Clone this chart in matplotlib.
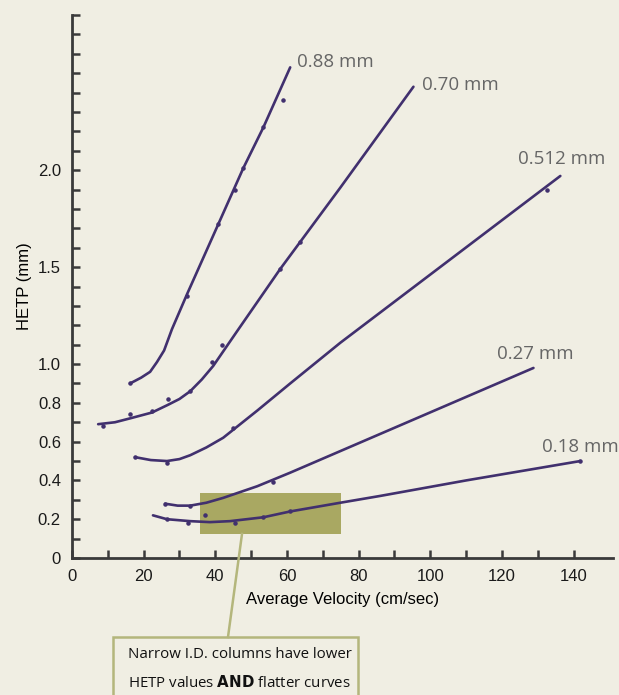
import numpy as np
import matplotlib
matplotlib.use('Agg')
import matplotlib.pyplot as plt
from matplotlib.patches import Rectangle
from matplotlib.lines import Line2D

# curves (velocity cm/sec, HETP mm)
x_088 = [16.2, 19.3, 21.8, 23.7, 25.7, 27.9, 32.1, 40.8, 47.8, 53.4, 60.9]
y_088 = [0.90, 0.93, 0.96, 1.01, 1.07, 1.18, 1.36, 1.72, 2.01, 2.22, 2.53]
x_070 = [7.3, 12.0, 16.2, 22.3, 26.8, 30.0, 33.0, 36.2, 39.4, 46.1, 58.1, 74.9, 95.3]
y_070 = [0.69, 0.70, 0.72, 0.75, 0.79, 0.82, 0.86, 0.92, 0.99, 1.17, 1.49, 1.91, 2.43]
x_0512 = [17.6, 22.0, 26.5, 30.0, 33.0, 37.5, 42.2, 51.7, 60.9, 74.9, 136.3]
y_0512 = [0.52, 0.505, 0.50, 0.51, 0.53, 0.57, 0.62, 0.76, 0.90, 1.11, 1.97]
x_027 = [26.0, 29.5, 33.0, 37.5, 42.2, 51.7, 60.9, 128.8]
y_027 = [0.28, 0.27, 0.27, 0.285, 0.31, 0.37, 0.44, 0.98]
x_018 = [22.6, 26.5, 33.0, 38.5, 44.1, 53.4, 60.9, 74.9, 86.0, 110.0, 141.9]
y_018 = [0.22, 0.20, 0.19, 0.185, 0.19, 0.21, 0.24, 0.285, 0.32, 0.40, 0.50]

# measured points (small dots)
dots_x = [16.2, 32.1, 40.8, 45.5, 47.8, 53.4, 58.9,
          8.7, 16.2, 22.3, 26.8, 33.0, 39.1, 41.9, 58.1, 63.7,
          17.6, 26.5, 45.0, 132.7,
          26.0, 33.0, 56.2,
          26.5, 32.4, 37.2, 45.5, 53.4, 60.9, 141.9]
dots_y = [0.90, 1.35, 1.72, 1.90, 2.01, 2.22, 2.36,
          0.68, 0.74, 0.76, 0.82, 0.86, 1.01, 1.10, 1.49, 1.63,
          0.52, 0.49, 0.67, 1.90,
          0.28, 0.27, 0.39,
          0.20, 0.18, 0.22, 0.18, 0.21, 0.24, 0.50]

curve_labels = ['0.88 mm', '0.70 mm', '0.512 mm', '0.27 mm', '0.18 mm']
label_x = [62.8, 97.8, 124.6, 118.7, 131.3]
label_y = [2.56, 2.44, 2.06, 1.05, 0.57]

ytick_vals = np.round(np.arange(0, 2.81, 0.1), 1)
ytick_shown = {0.0: '0', 0.2: '0.2', 0.4: '0.4', 0.6: '0.6', 0.8: '0.8',
               1.0: '1.0', 1.5: '1.5', 2.0: '2.0'}
xtick_vals = np.arange(0, 141, 10)

bg = '#f0eee3'
line_col = '#41306e'
olive = '#a9a862'

fig = plt.figure(figsize=(6.19, 6.95), dpi=100, facecolor=bg)
ax = fig.add_axes([72 / 619, 137 / 695, 541 / 619, 543 / 695])
ax.set_facecolor(bg)

# highlight box behind the narrow columns
ax.add_patch(Rectangle((35.8, 0.123), 39.3, 0.211, facecolor=olive, edgecolor='none', zorder=1))

for xs, ys in [(x_088, y_088), (x_070, y_070), (x_0512, y_0512), (x_027, y_027), (x_018, y_018)]:
    ax.plot(xs, ys, color=line_col, lw=1.9, solid_capstyle='round', solid_joinstyle='round', zorder=3)
ax.scatter(dots_x, dots_y, s=5, color=line_col, zorder=4)

for lab, lx, ly in zip(curve_labels, label_x, label_y):
    ax.text(lx, ly, lab, ha='left', va='center', fontsize=13.5, color='#666666',
            family='Open Sans', clip_on=False)

ax.set_xlim(0, 151)
ax.set_ylim(0, 2.8)
ax.set_xticks(xtick_vals)
ax.set_xticklabels([str(v) if v % 20 == 0 else '' for v in xtick_vals])
ax.set_yticks(ytick_vals)
ax.set_yticklabels([ytick_shown.get(v, '') for v in ytick_vals])
ax.tick_params(direction='in', length=6, width=1.8, color='#3a3a3a',
               labelsize=12, labelcolor='#1a1a1a', pad=8)
for lbl in ax.get_xticklabels() + ax.get_yticklabels():
    lbl.set_family('Liberation Sans')

for s in ['top', 'right']:
    ax.spines[s].set_visible(False)
for s in ['left', 'bottom']:
    ax.spines[s].set_linewidth(2)
    ax.spines[s].set_color('#3a3a3a')

ax.set_xlabel('Average Velocity (cm/sec)', fontsize=12, family='Liberation Sans', labelpad=6)
ax.set_ylabel('HETP (mm)', fontsize=12, family='Liberation Sans', labelpad=4)

# callout below the chart
fig.add_artist(Line2D([242 / 619, 228 / 619], [161 / 695, 58 / 695], color='#b4b67c', lw=1.8))
fig.add_artist(Rectangle((113 / 619, -10 / 695), 245 / 619, 68 / 695, facecolor=bg,
                         edgecolor='#b4b67c', lw=1.8, transform=fig.transFigure))
fig.text(128 / 619, 40 / 695, 'Narrow I.D. columns have lower', fontsize=10.8,
         family='Open Sans', color='#111111', va='center', ha='left')
fig.text(128 / 619, 12 / 695, 'HETP values $\\bf{AND}$ flatter curves', fontsize=10.8,
         family='Open Sans', color='#111111', va='center', ha='left')

fig.savefig('out.png', dpi=100, facecolor=bg)
